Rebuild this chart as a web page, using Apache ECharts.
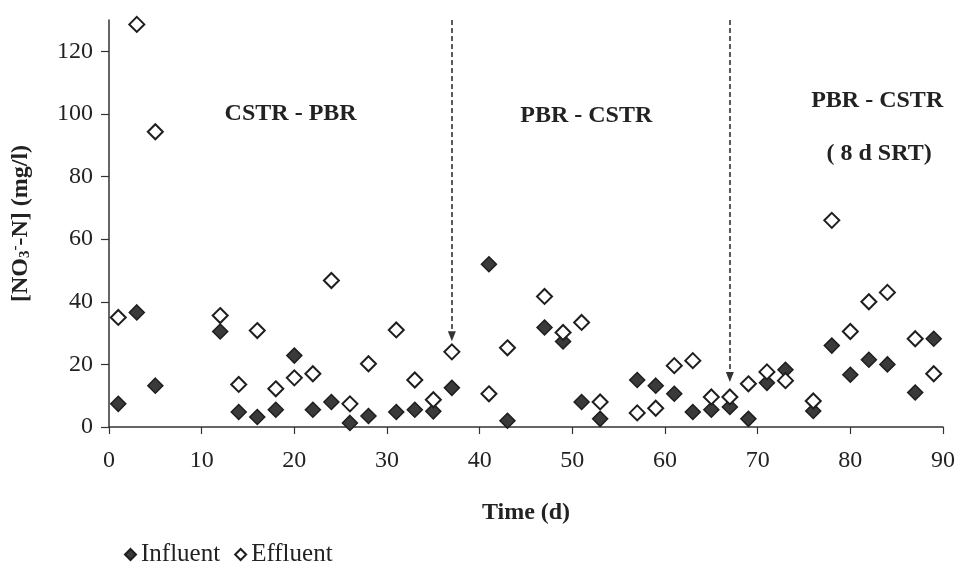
<!DOCTYPE html>
<html>
<head>
<meta charset="utf-8">
<script src="https://cdn.jsdelivr.net/npm/echarts@6/dist/echarts.min.js"></script>
<style>
  html, body { margin: 0; padding: 0; background: #fff; }
  #chart { width: 958px; height: 567px; }
</style>
</head>
<body>
<div id="chart"></div>
<script>
// Sampling days (d)
const days = [1, 3, 5, 12, 14, 16, 18, 20, 22, 24, 26, 28, 31, 33, 35, 37, 41, 43, 47, 49,
              51, 53, 57, 59, 61, 63, 65, 67, 69, 71, 73, 76, 78, 80, 82, 84, 87, 89];

// Nitrate-N in the influent (mg/l)
const influent = [7.4, 36.6, 13.2, 30.5, 4.8, 3.2, 5.5, 22.8, 5.5, 8, 1.3, 3.5, 4.8, 5.5, 5, 12.5, 52, 2, 31.8, 27.3,
                  8, 2.6, 15, 13.2, 10.6, 4.8, 5.5, 6.4, 2.6, 14.1, 18.3, 5.1, 26, 16.7, 21.5, 20, 11, 28.2];

// Nitrate-N in the effluent (mg/l)
const effluent = [35, 128.6, 94.3, 35.6, 13.6, 30.8, 12.2, 15.7, 17, 46.8, 7.4, 20.2, 31, 15, 8.7, 24, 10.6, 25.3, 41.7, 30.2,
                  33.4, 8, 4.5, 6, 19.6, 21.2, 9.6, 9.6, 13.8, 17.6, 14.8, 8.3, 66, 30.5, 40, 43, 28.2, 17];

// Days on which the reactor configuration was switched, and where each arrow points
const switchDays = [37, 67];
const arrowTips = [29, 16];

const xTicks = [0, 10, 20, 30, 40, 50, 60, 70, 80, 90];
const yTicks = [0, 20, 40, 60, 80, 100, 120];

const ink = '#222';
const serif = '"Liberation Serif", "Times New Roman", serif';

const pairs = (ys) => days.map((d, i) => [d, ys[i]]);

const phaseLabel = (text, coord) => ({
  coord: coord,
  symbol: 'rect',
  symbolSize: 1,
  itemStyle: { color: 'rgba(0,0,0,0)' },
  label: {
    show: true,
    position: 'inside',
    formatter: text,
    color: ink,
    fontFamily: serif,
    fontWeight: 'bold',
    fontSize: 24
  }
});

// Dashed switch-over arrow from the top of the plot down to its tip
const switchArrow = (day, tip) => [
  { coord: [day, 130], symbol: 'none' },
  { coord: [day, tip], symbol: 'triangle', symbolSize: [8, 10], symbolRotate: 180 }
];

const chart = echarts.init(document.getElementById('chart'), null, { renderer: 'canvas' });

chart.setOption({
  backgroundColor: '#fff',
  animation: false,
  grid: { left: 108, right: 14, top: 20, bottom: 140 },
  xAxis: {
    type: 'value',
    min: 0,
    max: 90,
    interval: 10,
    name: 'Time (d)',
    nameLocation: 'middle',
    nameGap: 74,
    nameTextStyle: { color: ink, fontFamily: serif, fontWeight: 'bold', fontSize: 24 },
    axisLine: { lineStyle: { color: '#333', width: 1.5 } },
    axisTick: { length: 7, lineStyle: { color: '#333', width: 1.2 }, customValues: xTicks },
    axisLabel: { color: ink, fontFamily: serif, fontSize: 24, margin: 22, customValues: xTicks },
    splitLine: { show: false }
  },
  yAxis: {
    type: 'value',
    min: 0,
    max: 130,
    interval: 20,
    name: '[NO{sub|3}{sup|-}-N] (mg/l)',
    nameLocation: 'middle',
    nameGap: 76,
    nameRotate: 90,
    nameTextStyle: {
      color: ink, fontFamily: serif, fontWeight: 'bold', fontSize: 24,
      rich: {
        sub: { fontFamily: serif, fontWeight: 'bold', fontSize: 15, color: ink, verticalAlign: 'bottom', padding: [8, 0, 0, 0] },
        sup: { fontFamily: serif, fontWeight: 'bold', fontSize: 15, color: ink, verticalAlign: 'top', padding: [0, 0, 10, 0] }
      }
    },
    axisLine: { show: true, lineStyle: { color: '#333', width: 1.5 } },
    axisTick: { show: true, length: 8, lineStyle: { color: '#333', width: 1.2 }, customValues: yTicks },
    axisLabel: { color: ink, fontFamily: serif, fontSize: 24, margin: 16, customValues: yTicks },
    splitLine: { show: false }
  },
  legend: {
    left: 124,
    top: 542,
    padding: 0,
    itemGap: 14,
    itemWidth: 11,
    itemHeight: 11,
    textStyle: { color: ink, fontFamily: serif, fontSize: 25 },
    data: [
      { name: 'Influent', icon: 'diamond' },
      { name: 'Effluent', icon: 'diamond' }
    ]
  },
  series: [
    {
      name: 'Influent',
      type: 'scatter',
      symbol: 'diamond',
      symbolSize: 15,
      itemStyle: { color: '#3a3a3a', borderColor: '#1e1e1e', borderWidth: 1.5, opacity: 1 },
      data: pairs(influent),
      z: 3
    },
    {
      name: 'Effluent',
      type: 'scatter',
      symbol: 'diamond',
      symbolSize: 15,
      itemStyle: { color: '#fff', borderColor: '#1e1e1e', borderWidth: 2, opacity: 1 },
      data: pairs(effluent),
      z: 4,
      markLine: {
        silent: true,
        symbol: ['none', 'arrow'],
        symbolSize: 10,
        label: { show: false },
        lineStyle: { color: '#333', type: [5, 3], width: 1.6 },
        data: switchDays.map((d, i) => switchArrow(d, arrowTips[i]))
      },
      markPoint: {
        silent: true,
        data: [
          phaseLabel('CSTR - PBR', [19.6, 100.2]),
          phaseLabel('PBR - CSTR', [51.5, 99.5]),
          phaseLabel('PBR - CSTR', [82.9, 104.3]),
          phaseLabel('( 8 d SRT)', [83.1, 87.4])
        ]
      }
    }
  ]
});
</script>
</body>
</html>
